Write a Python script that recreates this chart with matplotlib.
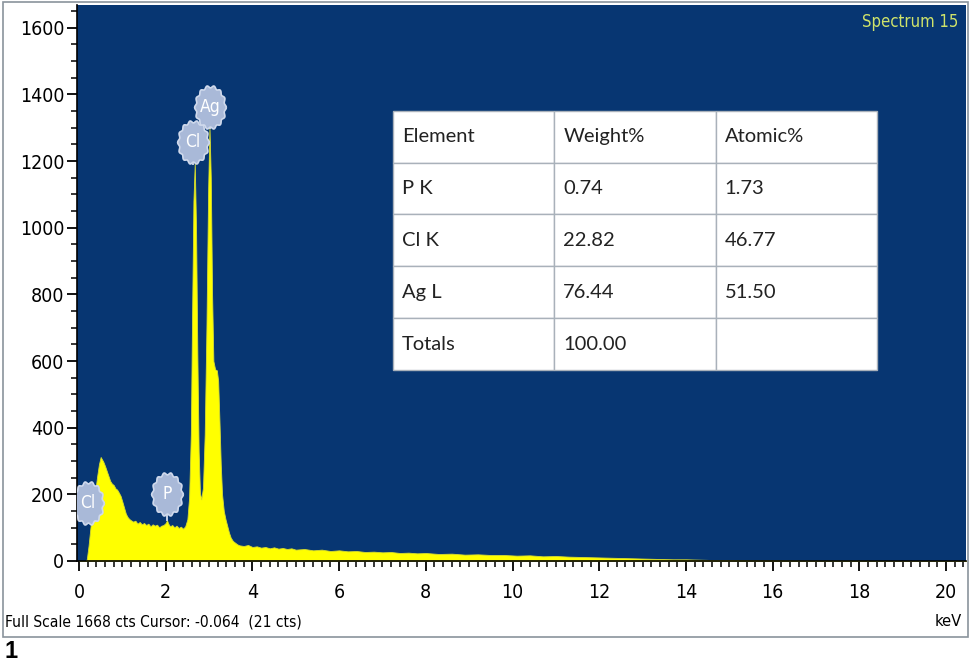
import matplotlib
matplotlib.use('Agg')
import matplotlib.pyplot as plt
from matplotlib import font_manager
import numpy as np

# EDS spectrum (keV, counts)
energy = [0.00, 0.15, 0.18, 0.22, 0.26, 0.30, 0.34, 0.38, 0.42, 0.46, 0.50, 0.53, 0.56,
          0.60, 0.64, 0.68, 0.72, 0.76, 0.80, 0.84, 0.88, 0.92, 0.96, 1.00, 1.04, 1.08,
          1.12, 1.16, 1.20, 1.25, 1.30, 1.35, 1.40, 1.45, 1.50, 1.55, 1.60, 1.65, 1.70,
          1.75, 1.80, 1.85, 1.90, 1.95, 2.00, 2.03, 2.06, 2.10, 2.15, 2.20, 2.25, 2.30,
          2.35, 2.40, 2.45, 2.50, 2.54, 2.58, 2.61, 2.64, 2.67, 2.70, 2.73, 2.76, 2.79,
          2.82, 2.86, 2.90, 2.94, 2.98, 3.01, 3.04, 3.07, 3.10, 3.14, 3.18, 3.21, 3.24,
          3.27, 3.30, 3.34, 3.38, 3.42, 3.46, 3.50, 3.55, 3.60, 3.65, 3.70, 3.80, 3.90,
          4.0, 4.1, 4.2, 4.3, 4.4, 4.5, 4.6, 4.7, 4.8, 4.9, 5.0, 5.2, 5.4, 5.6, 5.8,
          6.0, 6.2, 6.4, 6.6, 6.8, 7.0, 7.2, 7.4, 7.6, 7.8, 8.0, 8.3, 8.6, 8.9, 9.2,
          9.5, 9.8, 10.1, 10.4, 10.7, 11.0, 11.3, 11.6, 11.9, 12.2, 12.5, 12.8, 13.1,
          13.4, 13.7, 14.0, 14.3, 14.6, 15.0, 15.5, 16.0, 17.0, 18.0, 19.0, 20.5]
counts = [0, 0, 5, 45, 95, 140, 175, 215, 255, 290, 312, 305, 298,
          285, 270, 255, 240, 232, 228, 218, 214, 205, 195, 178, 160, 142,
          132, 126, 122, 118, 121, 112, 117, 110, 114, 108, 112, 104, 110,
          106, 109, 101, 106, 108, 114, 122, 112, 104, 108, 101, 106, 99,
          103, 97, 104, 125, 190, 380, 750, 1080, 1192, 1000, 620, 330, 205,
          185, 220, 380, 700, 1120, 1300, 1150, 800, 600, 575, 572, 540, 420,
          290, 200, 150, 125, 105, 85, 70, 60, 55, 50, 47, 45, 48,
          42, 44, 40, 42, 38, 41, 37, 39, 36, 38, 34, 36, 32, 34, 30,
          32, 29, 30, 27, 28, 26, 27, 24, 25, 23, 24, 21, 22, 19, 20,
          18, 18, 16, 17, 14, 15, 13, 12, 11, 10, 9, 8, 7,
          6, 5, 5, 4, 3, 3, 2, 2, 1, 1, 0, 0]

# peak badges
badge_labels = ['Cl', 'P', 'Cl', 'Ag']
badge_x = [0.20, 2.03, 2.63, 3.02]
badge_y = [174, 201, 1258, 1363]
stem_bottom = [120, 122, 1190, 1300]

# quantification table
table_rows = [['Element', 'Weight%', 'Atomic%'],
              ['P K', '0.74', '1.73'],
              ['Cl K', '22.82', '46.77'],
              ['Ag L', '76.44', '51.50'],
              ['Totals', '100.00', '']]

# pick a narrow font if one is around
names = {f.name for f in font_manager.fontManager.ttflist}
stretch = 'normal'
if 'Liberation Sans Narrow' in names:
    base = ['Liberation Sans Narrow', 'DejaVu Sans']
    fs = 14
else:
    fp = font_manager.FontProperties(family='DejaVu Sans', stretch='condensed')
    if 'Condensed' in font_manager.findfont(fp):
        base = ['DejaVu Sans']
        stretch = 'condensed'
        fs = 14
    else:
        base = ['Liberation Sans', 'DejaVu Sans']
        fs = 12
plt.rcParams['font.family'] = base
plt.rcParams['font.stretch'] = stretch

fig = plt.figure(figsize=(9.7, 6.65), dpi=100)
ax = fig.add_axes([0.0792, 0.1564, 0.9162, 0.836])
ax.set_facecolor('#073672')

ax.fill_between(energy, counts, 0, color='#ffff00', edgecolor='#d6dc30', linewidth=0.6, zorder=2)

ax.set_xlim(-0.05, 20.45)
ax.set_ylim(0, 1668)
ax.set_xticks(np.arange(0, 21, 2))
ax.set_xticks(np.arange(0, 20.5, 0.2), minor=True)
ax.set_yticks(np.arange(0, 1601, 200))
ax.set_yticks(np.arange(0, 1651, 50), minor=True)
ax.tick_params(axis='both', which='major', direction='out', length=7, width=1.3,
               labelsize=fs, colors='black')
ax.tick_params(axis='both', which='minor', direction='out', length=4, width=1.1)
ax.tick_params(axis='x', which='major', pad=9)
ax.tick_params(axis='y', which='major', pad=2)
for s in ['top', 'right']:
    ax.spines[s].set_visible(False)
for s in ['left', 'bottom']:
    ax.spines[s].set_color('black')
    ax.spines[s].set_linewidth(1.2)

# scalloped oval badge marker
th = np.linspace(0, 2 * np.pi, 121)
rr = 1 + 0.06 * np.cos(14 * th)
badge_marker = np.column_stack([0.72 * rr * np.cos(th), rr * np.sin(th)])

for lab, bx, by, sb in zip(badge_labels, badge_x, badge_y, stem_bottom):
    ax.plot([bx, bx], [sb, by], color='#c9d3e6', lw=1.4, zorder=3)
    ax.plot(bx, by, marker=badge_marker, markersize=31, markerfacecolor='#a9b9d8',
            markeredgecolor='#cfd9ec', markeredgewidth=1.2, zorder=4, linestyle='none')
    ax.text(bx, by, lab, color='white', ha='center', va='center', fontsize=12.5, zorder=5)

ax.text(0.992, 0.985, 'Spectrum 15', transform=ax.transAxes, ha='right', va='top',
        color='#cfe36a', fontsize=12)

tbl = ax.table(cellText=table_rows, cellLoc='left',
               bbox=[0.3558, 0.3437, 0.5446, 0.4661], zorder=6)
tbl.auto_set_font_size(False)
tbl.set_fontsize(14.5)
for (r, c), cell in tbl.get_celld().items():
    cell.set_facecolor('white')
    cell.set_edgecolor('#a9b1ba')
    cell.set_linewidth(1.0)
    cell.PAD = 0.055
    cell.get_text().set_fontfamily(['Lato', 'DejaVu Sans'])
    cell.get_text().set_fontstretch('normal')
    cell.get_text().set_color('#222222')

# bottom captions
fig.text(5 / 970, 1 - 622 / 665, 'Full Scale 1668 cts Cursor: -0.064  (21 cts)',
         ha='left', va='center', fontsize=11.2)
fig.text(962 / 970, 1 - 622 / 665, 'keV', ha='right', va='center', fontsize=11.8)
fig.text(4 / 970, 1 - 652 / 665, '1', ha='left', va='center', fontsize=17,
         fontweight='bold', family=['Liberation Sans', 'DejaVu Sans'], fontstretch='normal')

# outer frame
frame = plt.Rectangle((3 / 970, 28 / 665), 965 / 970, 635 / 665, transform=fig.transFigure,
                      fill=False, edgecolor='#8a949c', linewidth=1.2)
fig.patches.append(frame)

fig.savefig('out.png', dpi=100, facecolor='white')
